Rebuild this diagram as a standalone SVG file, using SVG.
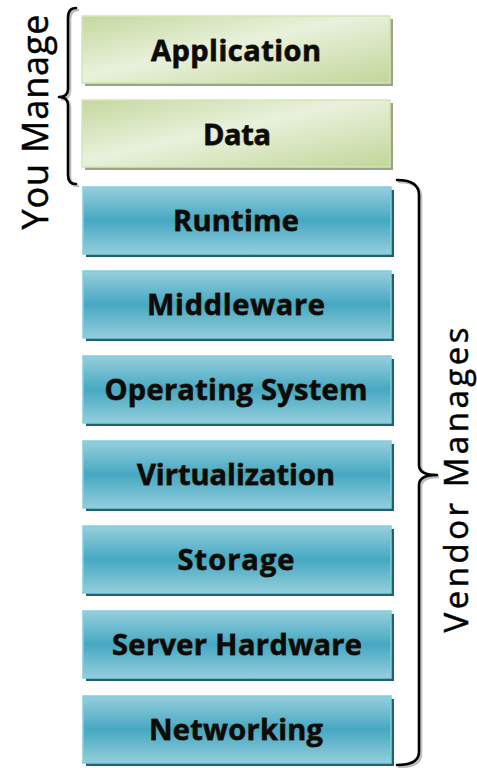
<svg xmlns="http://www.w3.org/2000/svg" width="477" height="768" viewBox="0 0 477 768">
  <defs>
    <linearGradient id="gGreen" x1="0" y1="0" x2="1" y2="1">
      <stop offset="0" stop-color="#c4d89e"/>
      <stop offset="0.45" stop-color="#e9f1dc"/>
      <stop offset="1" stop-color="#c2d699"/>
    </linearGradient>
    <linearGradient id="gTeal" x1="0" y1="0" x2="0" y2="1">
      <stop offset="0" stop-color="#96cfdc"/>
      <stop offset="0.5" stop-color="#46a8c3"/>
      <stop offset="1" stop-color="#94cedb"/>
    </linearGradient>
  </defs>
  <style>
    .green { fill: url(#gGreen); stroke: #d6e5bb; stroke-width: 1.5; }
    .teal { fill: url(#gTeal); stroke: #7fcfe0; stroke-width: 1.5; }
    .shG { fill: #9ba584; }
    .shT { fill: #25606f; }
    .lbl { font-family: "Open Sans", "DejaVu Sans", sans-serif; font-weight: bold; font-size: 29px; fill: #0b0b0b; stroke: #3b3510; stroke-width: 0.8; paint-order: stroke; text-anchor: middle; }
    .side { font-family: "Open Sans", "DejaVu Sans", sans-serif; font-size: 36px; fill: #000; stroke: #000; stroke-width: 0.5; text-anchor: middle; }
    .brace { fill: none; stroke: #000; stroke-width: 2.6; stroke-linecap: round; stroke-linejoin: round; }
    .braceSh { fill: none; stroke: #bdbdbd; stroke-width: 2.6; stroke-linecap: round; }
  </style>

  <!-- stack layers -->
  <g id="application">
    <rect class="shG" x="85" y="19" width="308" height="67"/>
    <rect class="green" x="82" y="16" width="308" height="67"/>
    <text class="lbl" x="236" y="61" textLength="170">Application</text>
  </g>
  <g id="data">
    <rect class="shG" x="85" y="103" width="308" height="67"/>
    <rect class="green" x="82" y="100" width="308" height="67"/>
    <text class="lbl" x="237" y="145" textLength="68">Data</text>
  </g>
  <g id="runtime">
    <rect class="shT" x="86" y="190" width="308" height="67"/>
    <rect class="teal" x="83" y="187" width="308" height="67"/>
    <text class="lbl" x="236" y="231" textLength="126">Runtime</text>
  </g>
  <g id="middleware">
    <rect class="shT" x="86" y="274" width="308" height="67"/>
    <rect class="teal" x="83" y="271" width="308" height="67"/>
    <text class="lbl" x="236" y="315" textLength="178">Middleware</text>
  </g>
  <g id="operating-system">
    <rect class="shT" x="86" y="359" width="308" height="67"/>
    <rect class="teal" x="83" y="356" width="308" height="67"/>
    <text class="lbl" x="236" y="400" textLength="263">Operating System</text>
  </g>
  <g id="virtualization">
    <rect class="shT" x="86" y="444" width="308" height="67"/>
    <rect class="teal" x="83" y="441" width="308" height="67"/>
    <text class="lbl" x="236" y="485" textLength="198">Virtualization</text>
  </g>
  <g id="storage">
    <rect class="shT" x="86" y="529" width="308" height="67"/>
    <rect class="teal" x="83" y="526" width="308" height="67"/>
    <text class="lbl" x="236" y="570" textLength="117">Storage</text>
  </g>
  <g id="server-hardware">
    <rect class="shT" x="86" y="614" width="308" height="67"/>
    <rect class="teal" x="83" y="611" width="308" height="67"/>
    <text class="lbl" x="237" y="655" textLength="250">Server Hardware</text>
  </g>
  <g id="networking">
    <rect class="shT" x="86" y="699" width="308" height="67"/>
    <rect class="teal" x="83" y="696" width="308" height="67"/>
    <text class="lbl" x="236" y="740" textLength="174">Networking</text>
  </g>

  <!-- braces grouping the layers -->
  <g id="connectors">
    <path class="braceSh" d="M78,10 Q70,10 70,20 L70,91 Q70,99 61,99 Q70,99 70,107 L70,177 Q70,186 78,186"/>
    <path class="brace" d="M76,8 Q68,8 68,18 L68,89 Q68,97 59,97 Q68,97 68,105 L68,175 Q68,184 76,184"/>
    <path class="braceSh" d="M399,182 Q421,182 421,197 L421,467 Q421,477 439,477 Q421,477 421,487 L421,754 Q421,767 399,767"/>
    <path class="brace" d="M397,180 Q419,180 419,195 L419,465 Q419,475 437,475 Q419,475 419,485 L419,752 Q419,765 397,765"/>
  </g>

  <g id="you-manage">
    <text class="side" transform="translate(48,122) rotate(-90)" textLength="215">You Manage</text>
  </g>
  <g id="vendor-manages">
    <text class="side" style="font-size:33px" transform="translate(468,480) rotate(-90)" textLength="305">Vendor Manages</text>
  </g>
</svg>
